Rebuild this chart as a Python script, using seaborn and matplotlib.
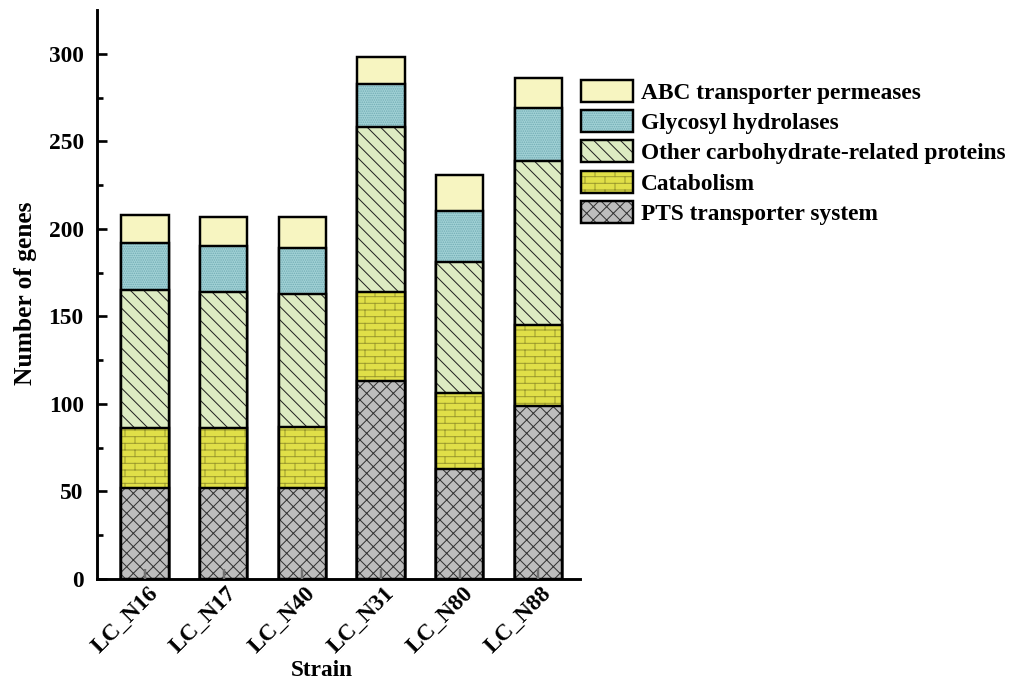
import warnings
import numpy as np
import matplotlib
matplotlib.use("Agg")
import matplotlib.pyplot as plt
import matplotlib.transforms as mtransforms
import seaborn as sns
from matplotlib import hatch as mhatch
from matplotlib.path import Path
from matplotlib.patches import Patch
from matplotlib.legend_handler import HandlerTuple

warnings.filterwarnings("ignore")

# ---- data -------------------------------------------------------------
strains = ["LC_N16", "LC_N17", "LC_N40", "LC_N31", "LC_N80", "LC_N88"]
pts = [52, 52, 52, 113, 63, 99]
catabolism = [34, 34, 35, 51, 43, 46]
other = [79, 78, 76, 94, 75, 94]
glycosyl = [27, 26, 26, 25, 29, 30]
abc = [16, 17, 18, 15, 21, 17]

categories = ["PTS transporter system", "Catabolism",
              "Other carbohydrate-related proteins", "Glycosyl hydrolases",
              "ABC transporter permeases"]
series = [pts, catabolism, other, glycosyl, abc]

fill_colors = ["#BDBDBD", "#E0DF48", "#DDEBC2", "#A2D2D6", "#F7F5C1"]
hatch_colors = ["#333333", "#9C9A2E", "#222222", "#6FAAB2", "#F7F5C1"]
hatches = ["xx", "B", "\\\\", "......", None]


# ---- brick hatch pattern ("B") ---------------------------------------
class BrickHatch(mhatch.HatchPatternBase):
    rows = 12
    bricks = 4

    def __init__(self, hatch, density):
        self.on = "B" in (hatch or "")
        n = self.rows * 2 + self.rows * self.bricks * 2 + self.bricks * 2
        self.num_vertices = n if self.on else 0

    def set_vertices_and_codes(self, vertices, codes):
        h = 1.0 / self.rows
        ys = (np.arange(self.rows) + 0.5) * h
        i = 0
        for y in ys:
            vertices[i] = (0.0, y); codes[i] = Path.MOVETO
            vertices[i + 1] = (1.0, y); codes[i + 1] = Path.LINETO
            i += 2
        for r, y in enumerate(ys):
            for k in range(self.bricks):
                x = (k + 0.25 + 0.5 * (r % 2)) / self.bricks
                vertices[i] = (x, y); codes[i] = Path.MOVETO
                vertices[i + 1] = (x, y + h); codes[i + 1] = Path.LINETO
                i += 2
        r = self.rows - 1
        for k in range(self.bricks):
            x = (k + 0.25 + 0.5 * (r % 2)) / self.bricks
            vertices[i] = (x, 0.0); codes[i] = Path.MOVETO
            vertices[i + 1] = (x, 0.5 * h); codes[i + 1] = Path.LINETO
            i += 2


mhatch._hatch_types.append(BrickHatch)

# ---- style ------------------------------------------------------------
sns.set_theme(style="ticks")
plt.rcParams["font.family"] = ["Liberation Serif", "DejaVu Serif"]
plt.rcParams["font.weight"] = "bold"
plt.rcParams["axes.labelweight"] = "bold"
plt.rcParams["text.color"] = "black"
plt.rcParams["axes.labelcolor"] = "black"
plt.rcParams["xtick.color"] = "black"
plt.rcParams["ytick.color"] = "black"
plt.rcParams["hatch.linewidth"] = 0.9

DPI = 80
FS = 21
fig = plt.figure(figsize=(1012 / DPI, 684 / DPI), dpi=DPI)
ax = fig.add_axes([97 / 1012, 105 / 684, 483 / 1012, 569 / 684])

EDGE_LW = 2.2
BAR_W = 0.6

# stacked bars: draw cumulative totals from the top layer down
cum = np.cumsum(np.array(series), axis=0)
for idx in range(len(series) - 1, -1, -1):
    tops = cum[idx]
    # fill
    sns.barplot(x=strains, y=tops, order=strains, color=fill_colors[idx],
                saturation=1, width=BAR_W, linewidth=0, errorbar=None, ax=ax)
    for p in ax.containers[-1]:
        p.set_edgecolor("none")
    # hatch
    if hatches[idx]:
        sns.barplot(x=strains, y=tops, order=strains, color="white",
                    saturation=1, width=BAR_W, errorbar=None, ax=ax)
        for p in ax.containers[-1]:
            p.set_facecolor("none")
            p.set_edgecolor(hatch_colors[idx])
            p.set_linewidth(0)
            p.set_hatch(hatches[idx])
    # outline
    sns.barplot(x=strains, y=tops, order=strains, color="white",
                saturation=1, width=BAR_W, errorbar=None, ax=ax)
    for p in ax.containers[-1]:
        p.set_facecolor("none")
        p.set_edgecolor("black")
        p.set_linewidth(EDGE_LW)

# ---- axes -------------------------------------------------------------
ax.set_axisbelow(False)
ax.set_xlim(-0.61, 5.53)
ax.set_ylim(0, 325)
ax.set_yticks(np.arange(0, 301, 50))
ax.set_yticks(np.arange(25, 301, 50), minor=True)
sns.despine(ax=ax, top=True, right=True)
for s in ["left", "bottom"]:
    ax.spines[s].set_linewidth(2.6)
    ax.spines[s].set_color("black")

ax.tick_params(axis="y", which="major", direction="in", length=9, width=2.4,
               pad=12, labelsize=FS, colors="black")
ax.tick_params(axis="y", which="minor", direction="in", length=5, width=2.4,
               colors="black")
ax.tick_params(axis="x", which="major", direction="in", length=9, width=2.2,
               color="#707070", pad=10, labelsize=21, labelcolor="black")
ax.set_xticks(range(len(strains)))
ax.set_xticklabels(strains, rotation=45, ha="right", va="center",
                   rotation_mode="anchor", fontweight="bold")
shift = mtransforms.ScaledTranslation(10 / DPI, 0, fig.dpi_scale_trans)
for lab in ax.get_xticklabels():
    lab.set_transform(lab.get_transform() + shift)
for lab in ax.get_yticklabels():
    lab.set_fontweight("bold")

ax.set_xlabel("Strain", fontsize=FS, fontweight="bold")
ax.set_ylabel("Number of genes", fontsize=23, fontweight="bold")
ax.xaxis.set_label_coords(0.466, -0.143)
ax.yaxis.set_label_coords(-0.125, 0.503)

# ---- legend -----------------------------------------------------------
handles, labels = [], []
for idx in range(len(series) - 1, -1, -1):
    parts = [Patch(facecolor=fill_colors[idx], edgecolor="none")]
    if hatches[idx]:
        parts.append(Patch(facecolor="none", edgecolor=hatch_colors[idx],
                           linewidth=0, hatch=hatches[idx]))
    parts.append(Patch(facecolor="none", edgecolor="black", linewidth=EDGE_LW))
    handles.append(tuple(parts))
    labels.append(categories[idx])

fig.legend(handles, labels, loc="upper left",
           bbox_to_anchor=(581 / 1012, 1 - 80 / 684),
           bbox_transform=fig.transFigure, frameon=False,
           prop={"weight": "bold", "size": FS},
           handler_map={tuple: HandlerTuple(ndivide=1, pad=0)},
           handlelength=52 / 23.3, handleheight=25 / 23.3,
           handletextpad=8 / 23.3, labelspacing=0.27,
           borderpad=0, borderaxespad=0)

fig.savefig("out.png", dpi=DPI)
